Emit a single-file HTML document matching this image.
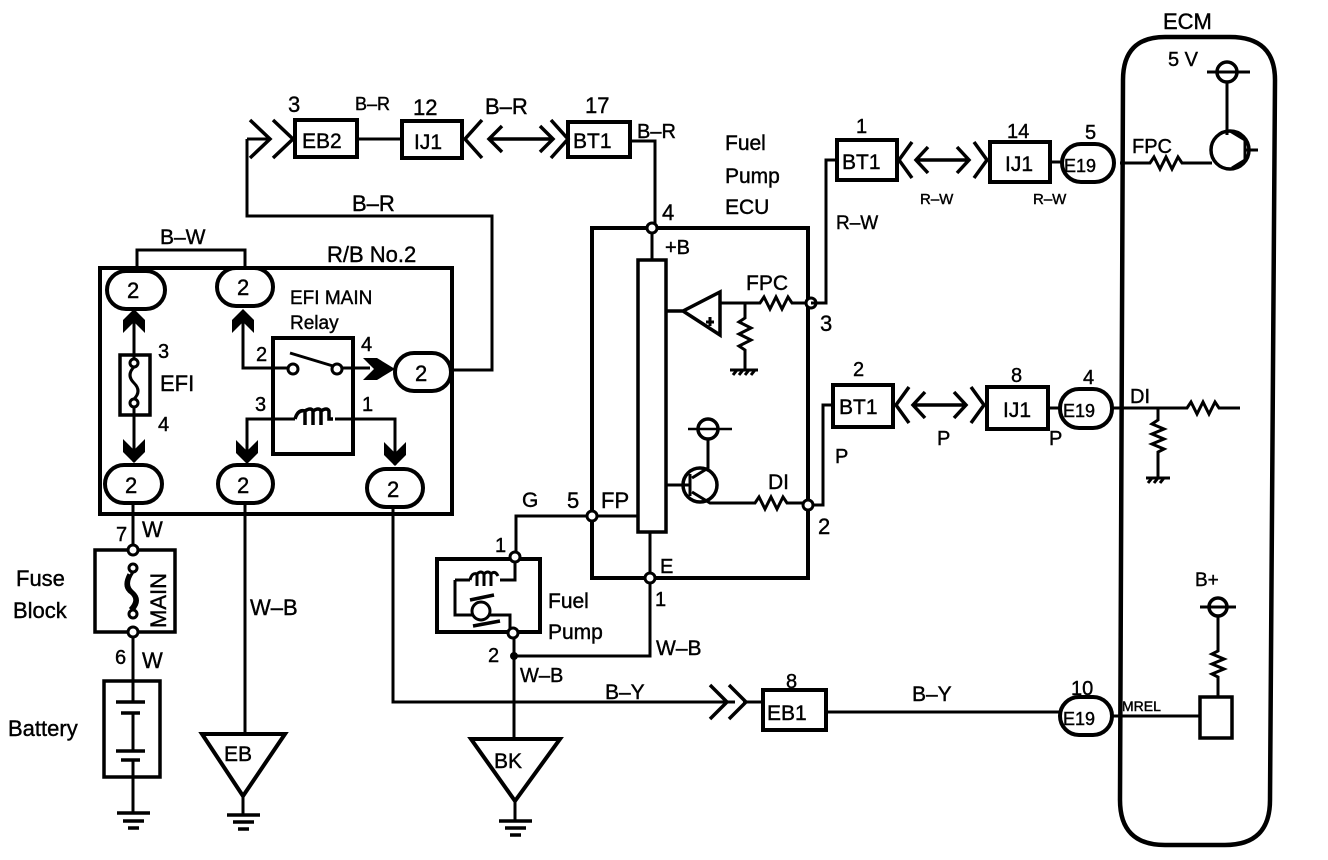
<!DOCTYPE html>
<html><head><meta charset="utf-8"><style>
html,body{margin:0;padding:0;background:#fff}
svg{display:block}
text{font-family:"Liberation Sans",sans-serif;fill:#000;stroke:#000;stroke-width:0.4}
</style></head><body>
<svg width="1328" height="860" viewBox="0 0 1328 860" xmlns="http://www.w3.org/2000/svg">
<g fill="none" stroke="#000" stroke-width="3" stroke-linejoin="miter">
<rect x="295" y="120" width="62" height="37" stroke-width="4"/>
<rect x="402" y="121" width="60" height="37" stroke-width="4"/>
<rect x="568" y="122" width="62" height="35" stroke-width="4"/>
<path d="M357 139 H402" />
<path d="M250 120 L270 139 L250 158 M273 120 L293 139 L273 158" stroke-width="3.5"/>
<path d="M247 139 H268 M247 139 V216 H492 V370 H452"/>
<path d="M482 120 L465 139 L482 158" stroke-width="3.5"/>
<path d="M490 139 H552 M502 126 L489 139 L502 152 M540 126 L553 139 L540 152" stroke-width="3.5"/>
<path d="M551 120 L568 139 L551 158" stroke-width="3.5"/>
<path d="M630 141 H655 V228"/>
<rect x="100" y="268" width="352" height="246" stroke-width="4"/>
<path d="M137 272 V250 H245 V270"/>
<g stroke-width="4" fill="#fff">
<rect x="107" y="271" width="58" height="38" rx="19"/>
<rect x="217" y="268" width="56" height="38" rx="19"/>
<rect x="395" y="353" width="56" height="38" rx="19"/>
<rect x="105" y="465" width="57" height="38" rx="19"/>
<rect x="218" y="465" width="55" height="38" rx="19"/>
<rect x="367" y="469" width="56" height="38" rx="19"/>
</g>
<path d="M134 310 V358 M134 408 V462"/>
<rect x="120" y="355" width="30" height="60" stroke-width="3.5"/>
<circle cx="134" cy="363" r="4" fill="#fff"/><circle cx="134" cy="403" r="4" fill="#fff"/>
<path d="M134 367 Q126 375 134 383 Q142 391 134 399"/>
<rect x="273" y="338" width="80" height="116" stroke-width="4"/>
<path d="M243 312 V368 H288 M341 368 H370"/>
<circle cx="293" cy="369" r="5" fill="#fff"/><circle cx="337" cy="369" r="5" fill="#fff"/>
<path d="M290 353 L333 366"/>
<path d="M247 458 V419 H295 M335 419 H395 V465"/>
<path d="M295 419 q3 -10 10 -8 v14 m0 -14 q6 -4 8 0 v14 m0 -14 q6 -4 8 0 v14 m0 -14 q6 -4 8 0 v8 h4" stroke-width="3.5"/>
<path d="M133 503 V550 M133 632 V680 M133 777 V813"/>
<path d="M245 503 V733 M243 795 V815"/>
<path d="M393 507 V702 H735"/>
<rect x="95" y="550" width="80" height="82" stroke-width="3.5"/>
<circle cx="133" cy="550" r="5" fill="#fff"/><circle cx="133" cy="632" r="5" fill="#fff"/>
<circle cx="133" cy="568" r="4" fill="#fff"/><circle cx="133" cy="614" r="4" fill="#fff"/>
<path d="M133 572 Q124 585 133 592 Q142 600 133 610 M129 574 Q122 587 131 593 Q139 600 130 609"/>
<rect x="104" y="681" width="56" height="96" stroke-width="3.5"/>
<path d="M116 702 H145 M121 713 H140 M116 751 H145 M121 760 H140" stroke-width="3.5"/>
<path d="M133 681 V702 M133 713 V751 M133 760 V777"/>
<path d="M117 813 H150 M123 821 H144 M128 828 H139" stroke-width="3.5"/>
<path d="M202 734 H285 L243 796 Z" stroke-width="4"/>
<path d="M227 815 H260 M233 822 H254 M238 829 H249" stroke-width="3.5"/>
<path d="M592 228 H808 V578 H592 Z" stroke-width="4"/>
<rect x="638" y="260" width="28" height="272" stroke-width="3.5"/>
<path d="M652 228 V260 M650 532 V578"/>
<path d="M666 311 H683 L720 292 V335 L683 311" stroke-width="3.5"/>
<path d="M710 317 V326 M706 322 H714"/>
<path d="M720 303 H760 l4 -6 l6 12 l6 -12 l6 12 l6 -12 l4 6 H808"/>
<path d="M745 303 V318 l-6 4 l12 6 l-12 6 l12 6 l-12 6 l6 4 V370 M730 370 H758 M733 375 l4 -5 M739 375 l4 -5 M745 375 l4 -5 M751 375 l4 -5"/>
<circle cx="700" cy="485" r="17" stroke-width="3.5"/>
<path d="M666 485 H690 M690 474 V496 M692 478 L708 468 V440 M692 492 L710 503 H755 l4 -6 l6 12 l6 -12 l6 12 l6 -12 l4 6 H808"/>
<circle cx="708" cy="429" r="10" stroke-width="3.5"/>
<path d="M688 429 H732" stroke-width="2.5"/>
<path d="M592 516 H638 M592 516 V578"/>
<circle cx="652" cy="228" r="5" fill="#fff"/>
<circle cx="811" cy="303" r="5" fill="#fff"/>
<circle cx="808" cy="505" r="5" fill="#fff"/>
<circle cx="592" cy="516" r="5" fill="#fff"/>
<circle cx="650" cy="578" r="5" fill="#fff"/>
<path d="M587 516 H516 V553"/>
<rect x="437" y="559" width="103" height="73" stroke-width="4"/>
<path d="M515 562 V580 H500 M455 580 H470 M455 580 V615 H472 M489 615 H510 V628"/>
<path d="M470 580 q2 -8 7 -6 v12 m0 -12 q4 -4 7 0 v12 m0 -12 q4 -4 7 0 v12 m0 -12 q4 -4 7 2" stroke-width="3"/>
<circle cx="481" cy="611" r="9" stroke-width="3"/>
<path d="M470 600 L494 595 M473 626 L500 621" stroke-width="3.5"/>
<circle cx="515" cy="557" r="5" fill="#fff"/>
<circle cx="513" cy="633" r="5" fill="#fff"/>
<path d="M650 583 V656 H514 M514 638 V738 M515 800 V820"/>
<circle cx="514" cy="656" r="2.5" fill="#000"/>
<path d="M471 739 H560 L515 801 Z" stroke-width="4"/>
<path d="M499 821 H532 M505 828 H526 M510 835 H521" stroke-width="3.5"/>
<path d="M710 685 L727 702 L710 719 M729 685 L746 702 L729 719" stroke-width="3.5"/>
<rect x="763" y="690" width="63" height="40" stroke-width="4"/>
<path d="M743 702 H763"/>
<path d="M826 712 H1060"/>
<rect x="1060" y="697" width="52" height="38" rx="19" stroke-width="4"/>
<path d="M1112 716 H1200"/>
<rect x="1200" y="697" width="32" height="41" stroke-width="3.5"/>
<path d="M1218 697 V677 l-6 -3 l12 -5 l-12 -5 l12 -5 l-12 -5 l6 -3 V617"/>
<circle cx="1218" cy="607" r="9" stroke-width="3.5"/>
<path d="M1200 607 H1236"/>
<path d="M1165 37 H1230 Q1275 37 1275 80 L1270 800 Q1270 845 1225 845 H1165 Q1120 845 1120 800 L1123 80 Q1123 37 1165 37 Z" stroke-width="4.5"/>
<circle cx="1227" cy="72" r="10" stroke-width="3.5"/>
<path d="M1207 72 H1250 M1227 82 V135"/>
<circle cx="1230" cy="150" r="19" stroke-width="3.5"/>
<path d="M1230 131 L1245 140 V160 L1232 168 M1245 150 H1258" stroke-width="3"/>
<path d="M1120 163 H1150 l4 -6 l6 12 l6 -12 l6 12 l6 -12 l4 6 H1212"/>
<path d="M811 303 H826 V160 H837"/>
<rect x="837" y="140" width="60" height="40" stroke-width="4"/>
<path d="M912 142 L899 160 L912 178 M928 147 L916 160 L928 173 M916 160 H968 M957 147 L969 160 L957 173 M974 142 L987 160 L974 178" stroke-width="3.5"/>
<rect x="990" y="142" width="60" height="40" stroke-width="4"/>
<path d="M1050 162 H1062"/>
<rect x="1062" y="144" width="52" height="38" rx="19" stroke-width="4"/>
<path d="M813 505 H823 V405 H833"/>
<rect x="833" y="385" width="60" height="42" stroke-width="4"/>
<path d="M909 387 L896 405 L909 423 M925 392 L913 405 L925 418 M913 405 H965 M954 392 L966 405 L954 418 M971 387 L984 405 L971 423" stroke-width="3.5"/>
<rect x="987" y="387" width="61" height="42" stroke-width="4"/>
<path d="M1048 408 H1060"/>
<rect x="1060" y="389" width="52" height="39" rx="19" stroke-width="4"/>
<path d="M1112 408 H1187 l4 -6 l6 12 l6 -12 l6 12 l6 -12 l4 6 H1240"/>
<path d="M1158 408 V420 l-6 4 l12 5 l-12 5 l12 5 l-12 5 l12 5 l-6 3 V478 M1146 478 H1170 M1148 483 l4 -5 M1154 483 l4 -5 M1160 483 l4 -5"/>
</g>
<g fill="#000">
<path d="M123 333 L134 322 L145 333 L145 320 L134 309 L123 320 Z"/>
<path d="M232 333 L243 322 L254 333 L254 320 L243 309 L232 320 Z"/>
<path d="M123 439 L134 450 L145 439 L145 452 L134 463 L123 452 Z"/>
<path d="M236 440 L247 451 L258 440 L258 453 L247 464 L236 453 Z"/>
<path d="M384 442 L395 453 L406 442 L406 455 L395 466 L384 455 Z"/>
<path d="M363 358 L374 369 L363 380 L377 380 L395 369 L377 358 Z"/>
</g>
<g font-size="22">
<text x="288" y="112">3</text>
<text x="355" y="110" font-size="18">B–R</text>
<text x="413" y="115">12</text>
<text x="485" y="114">B–R</text>
<text x="585" y="113">17</text>
<text x="637" y="138" font-size="20">B–R</text>
<text x="352" y="211">B–R</text>
<text x="160" y="244" font-size="21">B–W</text>
<text x="327" y="262">R/B No.2</text>
<text x="127" y="298">2</text><text x="237" y="295">2</text><text x="415" y="381">2</text>
<text x="125" y="493">2</text><text x="237" y="493">2</text><text x="387" y="497">2</text>
<text x="290" y="304" font-size="19">EFI MAIN</text>
<text x="290" y="329" font-size="19">Relay</text>
<text x="158" y="358" font-size="20">3</text>
<text x="160" y="391">EFI</text>
<text x="158" y="431" font-size="20">4</text>
<text x="256" y="361" font-size="20">2</text>
<text x="361" y="351" font-size="20">4</text>
<text x="255" y="411" font-size="20">3</text>
<text x="362" y="411" font-size="20">1</text>
<text x="116" y="541" font-size="20">7</text>
<text x="142" y="537">W</text>
<text x="16" y="586">Fuse</text>
<text x="13" y="618">Block</text>
<text transform="translate(166,628) rotate(-90)" font-size="22">MAIN</text>
<text x="115" y="664" font-size="20">6</text>
<text x="142" y="668">W</text>
<text x="8" y="736">Battery</text>
<text x="250" y="615">W–B</text>
<text x="224" y="761" font-size="21">EB</text>
<text x="494" y="768" font-size="21">BK</text>
<text x="725" y="150" font-size="21">Fuel</text>
<text x="725" y="183" font-size="21">Pump</text>
<text x="725" y="214" font-size="21">ECU</text>
<text x="662" y="220">4</text>
<text x="665" y="254" font-size="20">+B</text>
<text x="746" y="290" font-size="21">FPC</text>
<text x="820" y="331">3</text>
<text x="768" y="489" font-size="21">DI</text>
<text x="818" y="534">2</text>
<text x="567" y="508">5</text>
<text x="601" y="508">FP</text>
<text x="522" y="507" font-size="21">G</text>
<text x="495" y="552" font-size="20">1</text>
<text x="660" y="573" font-size="20">E</text>
<text x="655" y="606" font-size="20">1</text>
<text x="548" y="608" font-size="21">Fuel</text>
<text x="548" y="639" font-size="21">Pump</text>
<text x="656" y="655" font-size="21">W–B</text>
<text x="488" y="662" font-size="20">2</text>
<text x="520" y="682" font-size="20">W–B</text>
<text x="605" y="699" font-size="21">B–Y</text>
<text x="786" y="688" font-size="20">8</text>
<text x="767" y="720" font-size="21">EB1</text>
<text x="912" y="701" font-size="21">B–Y</text>
<text x="1071" y="695" font-size="20">10</text>
<text x="1063" y="725" font-size="18">E19</text>
<text x="1122" y="711" font-size="14">MREL</text>
<text x="1195" y="586" font-size="19">B+</text>
<text x="1163" y="29" font-size="22">ECM</text>
<text x="1168" y="66" font-size="20">5 V</text>
<text x="1132" y="153" font-size="20">FPC</text>
<text x="856" y="133" font-size="20">1</text>
<text x="842" y="169" font-size="21">BT1</text>
<text x="836" y="229" font-size="19">R–W</text>
<text x="920" y="204" font-size="15">R–W</text>
<text x="1033" y="204" font-size="15">R–W</text>
<text x="1007" y="138" font-size="20">14</text>
<text x="1005" y="171" font-size="21">IJ1</text>
<text x="1085" y="139" font-size="20">5</text>
<text x="1064" y="172" font-size="18">E19</text>
<text x="853" y="376" font-size="20">2</text>
<text x="839" y="414" font-size="21">BT1</text>
<text x="835" y="463" font-size="20">P</text>
<text x="937" y="445" font-size="20">P</text>
<text x="1049" y="445" font-size="20">P</text>
<text x="1011" y="382" font-size="20">8</text>
<text x="1003" y="417" font-size="21">IJ1</text>
<text x="1083" y="384" font-size="20">4</text>
<text x="1063" y="417" font-size="18">E19</text>
<text x="1130" y="403" font-size="20">DI</text>
<text x="302" y="148" font-size="21">EB2</text>
<text x="414" y="149" font-size="21">IJ1</text>
<text x="573" y="148" font-size="21">BT1</text>
</g>
</svg>
</body></html>
